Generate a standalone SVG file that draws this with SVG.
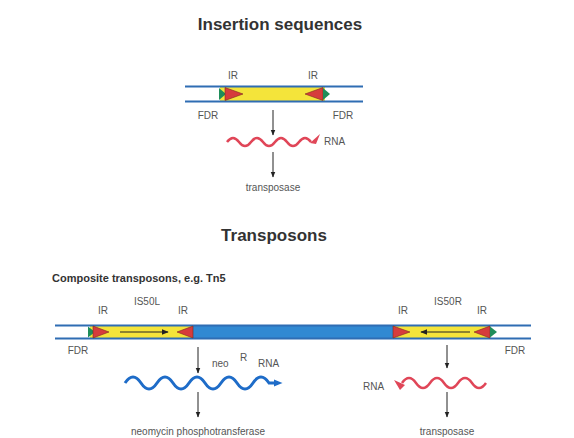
<svg xmlns="http://www.w3.org/2000/svg" width="574" height="438" viewBox="0 0 574 438">
<style>
.t{font-family:"Liberation Sans",Arial,sans-serif;fill:#555;font-size:10px}
.h{font-family:"Liberation Sans",Arial,sans-serif;fill:#333;font-weight:bold}
.dna{stroke:#2f6db3;stroke-width:2;fill:none}
.ar{stroke:#222;stroke-width:1;fill:none}
.ir{fill:#d63c3c;stroke:#7a2a20;stroke-width:0.6}
.fd{fill:#1f8d5a}
.yb{fill:#f4e43a}
</style>
<defs>
<marker id="ah" viewBox="0 0 10 10" refX="9" refY="5" markerWidth="6" markerHeight="6" orient="auto"><path d="M0,1 L10,5 L0,9 Z" fill="#222"/></marker>
<marker id="ahb" viewBox="0 0 10 10" refX="5" refY="5" markerWidth="3" markerHeight="3" orient="auto"><path d="M0,1 L10,5 L0,9 Z" fill="#1e6cc8"/></marker>
</defs>
<text class="h" x="280" y="30" font-size="17" text-anchor="middle">Insertion sequences</text>
<text class="h" x="274" y="241" font-size="17" text-anchor="middle">Transposons</text>
<text class="h" x="52" y="282" font-size="11">Composite transposons, e.g. Tn5</text>

<g id="is-element">
<rect class="yb" x="220" y="87" width="105" height="14"/>
<line class="dna" x1="185" y1="86.5" x2="363" y2="86.5"/>
<line class="dna" x1="185" y1="101.5" x2="363" y2="101.5"/>
<path class="fd" d="M219,88 L226,94 L219,100 Z"/>
<path class="ir" d="M225,87.5 L243,94 L225,100.5 Z"/>
<path class="ir" d="M323,87.5 L305,94 L323,100.5 Z"/>
<path class="fd" d="M323,88 L330,94 L323,100 Z"/>
<text class="t" x="233" y="79" text-anchor="middle">IR</text>
<text class="t" x="313" y="79" text-anchor="middle">IR</text>
<text class="t" x="208" y="119" text-anchor="middle">FDR</text>
<text class="t" x="343" y="119" text-anchor="middle">FDR</text>
</g>
<g id="is-rna">
<path d="M227,142 q6,-8 12,0 t12,0 t12,0 t12,0 t12,0 t12,0 t12,0" stroke="#e04658" stroke-width="2.5" fill="none"/>
<path d="M310,143 L320,134 L316,144 Z" fill="#e04658"/>
<text class="t" x="324" y="145">RNA</text>
</g>
<g id="is-transposase">
<text class="t" x="273" y="191" text-anchor="middle">transposase</text>
</g>

<g id="tn5-element">
<rect x="193" y="326" width="200" height="12" fill="#3189d2"/>
<rect class="yb" x="90" y="326" width="103" height="12"/>
<rect class="yb" x="393" y="326" width="97" height="12"/>
<line class="dna" x1="55" y1="325.5" x2="531" y2="325.5"/>
<line class="dna" x1="55" y1="338.5" x2="531" y2="338.5"/>
<path class="fd" d="M88,326.5 L95,332 L88,337.5 Z"/>
<path class="ir" d="M93,326 L109,332 L93,338 Z"/>
<path class="ir" d="M193,326 L177,332 L193,338 Z"/>
<line x1="120" y1="332" x2="168" y2="332" stroke="#222" stroke-width="1.2" marker-end="url(#ah)"/>
<path class="ir" d="M393,326 L410,332 L393,338 Z"/>
<path class="ir" d="M490,326 L474,332 L490,338 Z"/>
<path class="fd" d="M490,326.5 L497,332 L490,337.5 Z"/>
<line x1="470" y1="332" x2="421" y2="332" stroke="#222" stroke-width="1.2" marker-end="url(#ah)"/>
<text class="t" x="103" y="314" text-anchor="middle">IR</text>
<text class="t" x="147" y="305" text-anchor="middle">IS50L</text>
<text class="t" x="183" y="314" text-anchor="middle">IR</text>
<text class="t" x="78" y="354" text-anchor="middle">FDR</text>
<text class="t" x="403" y="314" text-anchor="middle">IR</text>
<text class="t" x="448" y="305" text-anchor="middle">IS50R</text>
<text class="t" x="482" y="314" text-anchor="middle">IR</text>
<text class="t" x="515" y="354" text-anchor="middle">FDR</text>
</g>
<g id="neo-rna">
<path d="M125,383 q8,-12 16,0 t16,0 t16,0 t16,0 t16,0 t16,0 t16,0 t16,0 t16,0 L278,383" stroke="#1e6cc8" stroke-width="3" fill="none" marker-end="url(#ahb)"/>
<text class="t" x="212" y="367" font-size="11">neo</text>
<text class="t" x="240" y="361" font-size="11">R</text>
<text class="t" x="258" y="367" font-size="11">RNA</text>
</g>
<g id="neo-protein">
<text class="t" x="198" y="435" text-anchor="middle">neomycin phosphotransferase</text>
</g>
<g id="right-rna">
<path d="M402,383 q7,-10 14,0 t14,0 t14,0 t14,0 t14,0 t14,0" stroke="#e04658" stroke-width="2.5" fill="none"/>
<path d="M405,385 L394,380 L400,390 Z" fill="#e04658"/>
<text class="t" x="363" y="390">RNA</text>
</g>
<g id="right-protein">
<text class="t" x="447" y="435" text-anchor="middle">transposase</text>
</g>
<g id="connectors">
<line class="ar" x1="273" y1="110" x2="273" y2="135" marker-end="url(#ah)"/>
<line class="ar" x1="273" y1="152" x2="273" y2="177" marker-end="url(#ah)"/>
<line class="ar" x1="198" y1="347" x2="198" y2="373" marker-end="url(#ah)"/>
<line class="ar" x1="198" y1="392" x2="198" y2="417" marker-end="url(#ah)"/>
<line class="ar" x1="447" y1="345" x2="447" y2="368" marker-end="url(#ah)"/>
<line class="ar" x1="447" y1="392" x2="447" y2="417" marker-end="url(#ah)"/>
</g>
</svg>
